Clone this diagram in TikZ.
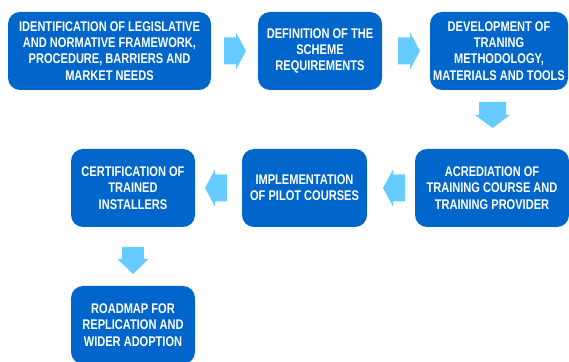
\documentclass[tikz,border=0pt]{standalone}
\usepackage{fontspec}
\setmainfont[FakeStretch=0.79]{Liberation Sans}
\usetikzlibrary{calc}
\definecolor{stageblue}{HTML}{0066CC}
\definecolor{flowblue}{HTML}{66CCFF}

\begin{document}
\begin{tikzpicture}[x=1pt,y=1pt,
  stage/.style={fill=stageblue,rounded corners=12pt,text=white,align=center,
    font=\bfseries\fontsize{14}{16.3}\selectfont,minimum height=78pt,inner sep=0pt},
  flow/.style={fill=flowblue}]
\useasboundingbox (0,0) rectangle (569,361);
%
% first row
\node[stage,minimum width=203pt] (legal) at (109.5,310)
  {IDENTIFICATION OF LEGISLATIVE\\AND NORMATIVE FRAMEWORK,\\PROCEDURE, BARRIERS AND\\MARKET NEEDS};
\node[stage,minimum width=124pt] (scheme) at (320,310)
  {DEFINITION OF THE\\SCHEME\\REQUIREMENTS};
\node[stage,minimum width=138pt] (method) at (499,310)
  {DEVELOPMENT OF\\TRANING\\METHODOLOGY,\\MATERIALS AND TOOLS};
%
% second row
\node[stage,minimum width=154pt] (acred) at (492,173)
  {ACREDIATION OF\\TRAINING COURSE AND\\TRAINING PROVIDER};
\node[stage,minimum width=125pt] (pilot) at (304.5,173)
  {IMPLEMENTATION\\OF PILOT COURSES};
\node[stage,minimum width=124pt] (certif) at (133,173)
  {CERTIFICATION OF\\TRAINED\\INSTALLERS};
%
% last box
\node[stage,minimum width=124pt] (roadmap) at (133,36)
  {ROADMAP FOR\\REPLICATION AND\\WIDER ADOPTION};
%
% block arrows between the boxes
\coordinate (f1) at ($(legal.east)!0.5!(scheme.west)+(0.5,0)$);
\coordinate (f2) at ($(scheme.east)!0.5!(method.west)+(3,0)$);
\coordinate (f3) at ($(method.south)!0.5!(acred.north)+(-3,4.5)$);
\coordinate (f4) at ($(acred.west)!0.5!(pilot.east)+(3,0)$);
\coordinate (f5) at ($(pilot.west)!0.5!(certif.east)+(-2.5,0)$);
\coordinate (f6) at ($(certif.south)!0.5!(roadmap.north)+(0,-4)$);
\fill[flow,shift={(f1)}] (-11,-13.5) -- (1,-13.5) -- (1,-18.5) -- (11,0) -- (1,18.5) -- (1,13.5) -- (-11,13.5) -- cycle;
\fill[flow,shift={(f2)}] (-11,-13.5) -- (1,-13.5) -- (1,-18.5) -- (11,0) -- (1,18.5) -- (1,13.5) -- (-11,13.5) -- cycle;
\fill[flow,shift={(f3)},rotate=-90] (-13,-13.5) -- (0,-13.5) -- (0,-17.5) -- (13,0) -- (0,17.5) -- (0,13.5) -- (-13,13.5) -- cycle;
\fill[flow,shift={(f4)},rotate=180] (-11,-13.5) -- (1,-13.5) -- (1,-18.5) -- (11,0) -- (1,18.5) -- (1,13.5) -- (-11,13.5) -- cycle;
\fill[flow,shift={(f5)},rotate=180] (-11,-13.5) -- (1,-13.5) -- (1,-18.5) -- (11,0) -- (1,18.5) -- (1,13.5) -- (-11,13.5) -- cycle;
\fill[flow,shift={(f6)},rotate=-90] (-13.5,-11) -- (-1.5,-11) -- (-1.5,-15.5) -- (13.5,0) -- (-1.5,15.5) -- (-1.5,11) -- (-13.5,11) -- cycle;
\end{tikzpicture}
\end{document}
